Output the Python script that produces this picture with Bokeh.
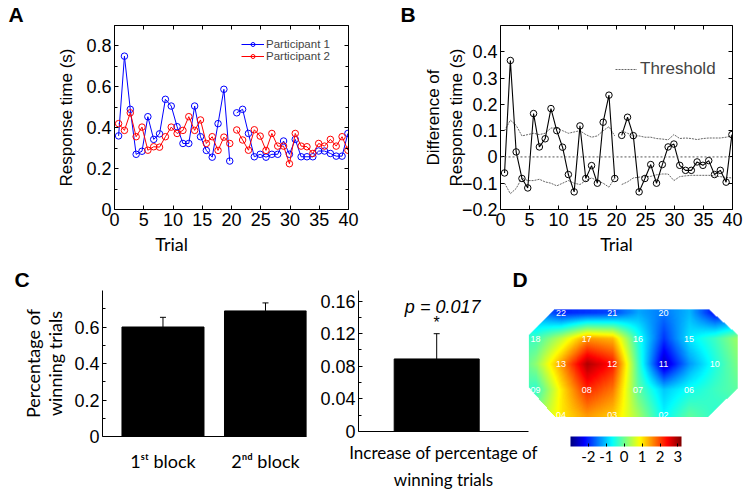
import numpy as np
from bokeh.plotting import figure
from bokeh.models import (Range1d, LinearAxis, FixedTicker, Legend, LegendItem, Label,
                          LinearColorMapper, ColorBar, Whisker, TeeHead, ColumnDataSource, Span,
                          AllLabels)
from bokeh.layouts import column, row
from bokeh.embed import file_html
from bokeh.resources import INLINE
from bokeh.core.properties import value

ARIAL = "Liberation Sans"
CAL = "Lato"

# ---------------- data ----------------
trials = list(range(1, 41))
p1_rt = [0.36, 0.75, 0.49, 0.27, 0.285, 0.454, 0.343, 0.37, 0.539, 0.506,
         0.405, 0.323, 0.323, 0.506, 0.356, 0.289, 0.256, 0.42, 0.588, 0.237,
         0.473, 0.49, 0.372, 0.258, 0.27, 0.256, 0.27, 0.27, 0.335, 0.27,
         0.343, 0.258, 0.258, 0.258, 0.286, 0.286, 0.274, 0.261, 0.261, 0.372]
p2_rt = [0.42, 0.387, 0.473, 0.356, 0.403, 0.29, 0.307, 0.305, 0.356, 0.403,
         0.372, 0.387, 0.454, 0.387, 0.438, 0.323, 0.356, 0.289, 0.354, 0.323,
         0.389, 0.34, 0.29, 0.39, 0.359, 0.289, 0.372, 0.31, 0.31, 0.224,
         0.372, 0.31, 0.307, 0.274, 0.323, 0.31, 0.343, 0.31, 0.356, 0.29]
rt_diff = [-0.061, 0.367, 0.019, -0.082, -0.118, 0.165, 0.038, 0.069, 0.184, 0.1,
           0.037, -0.067, -0.133, 0.118, -0.082, -0.033, -0.1, 0.132, 0.235, -0.082,
           0.082, 0.151, 0.081, -0.133, -0.082, -0.029, -0.1, -0.029, 0.038, 0.049,
           -0.032, -0.051, -0.051, -0.019, -0.032, -0.014, -0.067, -0.051, -0.096, 0.085]
thr_upper = [0.10, 0.14, 0.12, 0.08, 0.085, 0.09, 0.085, 0.09, 0.11, 0.11,
             0.10, 0.09, 0.095, 0.10, 0.085, 0.075, 0.08, 0.10, 0.115, 0.08,
             0.10, 0.09, 0.08, 0.08, 0.075, 0.075, 0.07, 0.068, 0.065, 0.085,
             0.07, 0.072, 0.07, 0.066, 0.07, 0.072, 0.072, 0.072, 0.075, 0.08]
thr_lower = [-0.10, -0.14, -0.12, -0.08, -0.09, -0.09, -0.085, -0.095, -0.10, -0.11,
             -0.10, -0.09, -0.10, -0.105, -0.09, -0.08, -0.09, -0.10, -0.115, -0.08,
             -0.105, -0.095, -0.08, -0.077, -0.075, -0.074, -0.068, -0.065, -0.065, -0.09,
             -0.075, -0.072, -0.07, -0.07, -0.07, -0.07, -0.072, -0.075, -0.078, -0.08]

block_labels = ["1\u02e2\u1d57 block", "2\u207f\u1d48 block"]
block_win = [0.60, 0.688]
block_err = [0.053, 0.044]

increase_val = [0.089]
increase_err = [0.031]
p_text = "p = 0.017"

electrode_names = ["22", "21", "20", "18", "17", "16", "15", "13", "12", "11", "10",
                   "09", "08", "07", "06", "04", "03", "02"]
electrode_col = [1, 3, 5, 0, 2, 4, 6, 1, 3, 5, 7, 0, 2, 4, 6, 1, 3, 5]
electrode_row = [0, 0, 0, 1, 1, 1, 1, 2, 2, 2, 2, 3, 3, 3, 3, 4, 4, 4]
topo_cols = [-0.27, 0, 1, 2, 3, 4, 5, 6, 7, 7.9]
topo_rows = [0, 1, 2, 3, 4]
topo_values = [
    [-1.1, -1.3, -2.0, -1.9, -1.8, -1.2, -1.5, -1.1, -2.2, -2.0],
    [-0.3, -0.3, 0.5, 1.5, 1.3, -0.5, -1.9, -0.8, -0.3, 0.3],
    [0.0, 0.2, 1.5, 2.9, 2.3, -0.3, -2.6, -1.3, -0.5, 0.1],
    [-0.3, -0.4, 1.0, 2.2, 1.7, -0.1, -1.0, -0.6, -0.3, -0.1],
    [0.0, 0.2, 1.0, 1.5, 1.2, 0.3, -0.7, -0.1, -0.4, -0.4],
]
montage_outline = [(0.74, -0.16), (6.72, -0.16), (7.89, 0.86), (7.89, 2.94),
                   (6.72, 4.08), (0.74, 4.08), (-0.27, 2.94), (-0.27, 0.86)]
cbar_low, cbar_high = -3.0, 3.2
cbar_ticks = [-2, -1, 0, 1, 2, 3]
cbar_labels = ["-2", "-1", "0", "1", "2", "3"]

# ---------------- helpers ----------------
trial_pos = [t - 0.3 if t <= 20 else t - 0.1 for t in trials]


def with_gap(vals):
    return list(vals[:20]) + [np.nan] + list(vals[20:])


def style_axis(ax, size="18px"):
    ax.major_label_text_font = ARIAL
    ax.major_label_text_font_size = size
    ax.major_label_text_color = "black"
    ax.axis_line_color = "black"
    ax.major_tick_line_color = "black"
    ax.minor_tick_line_color = "black"
    ax.major_tick_in = 4
    ax.major_tick_out = 0
    ax.minor_tick_in = 3
    ax.minor_tick_out = 0
    ax.major_label_standoff = 3
    ax.axis_label_text_color = "black"
    ax.axis_label_text_font_style = "normal"


def mirror(p, ticks, minor, loc):
    ax = LinearAxis(ticker=FixedTicker(ticks=ticks, minor_ticks=minor))
    style_axis(ax)
    ax.major_label_overrides = {t: "" for t in ticks}
    ax.major_label_text_font_size = "1px"
    ax.major_label_standoff = 0
    p.add_layout(ax, loc)


def base_fig(fw, fh, xr, yr, l, r, t, b, letter, offset):
    p = figure(frame_width=fw, frame_height=fh, x_range=xr, y_range=yr,
               output_backend="svg", toolbar_location=None,
               min_border_left=l, min_border_right=r, min_border_top=t, min_border_bottom=b)
    p.grid.visible = False
    p.outline_line_color = None
    p.title.text = letter
    p.title.align = "left"
    p.title.offset = offset
    p.title.standoff = 0
    p.title.text_font = ARIAL
    p.title.text_font_size = "21px"
    p.title.text_font_style = "bold"
    p.title.text_color = "black"
    return p


xt = [0, 5, 10, 15, 20, 25, 30, 35, 40]

# ---------------- Panel A ----------------
pA = base_fig(234, 184, Range1d(0, 40), Range1d(0, 0.9), 114, 37, 25, 53, "A", -106)
ya = [0, 0.2, 0.4, 0.6, 0.8]
ya_m = [0.1, 0.3, 0.5, 0.7, 0.9]
pA.xaxis.ticker = FixedTicker(ticks=xt, minor_ticks=[])
pA.yaxis.ticker = FixedTicker(ticks=ya, minor_ticks=ya_m)
for ax in pA.xaxis + pA.yaxis:
    style_axis(ax)
pA.yaxis.major_label_overrides = {0: "0"}
pA.yaxis.axis_label = "Response time (s)"
pA.yaxis.axis_label_text_font = ARIAL
pA.yaxis.axis_label_text_font_size = "17px"
pA.yaxis.axis_label_standoff = 7
pA.xaxis.axis_label = "Trial" + "\u00a0" * 26
pA.xaxis.axis_label_text_font = CAL
pA.xaxis.axis_label_text_font_size = "18px"
pA.xaxis.axis_label_standoff = 4
mirror(pA, xt, [], "above")
mirror(pA, ya, ya_m, "right")

la1 = pA.line(with_gap(trial_pos), with_gap(p1_rt), line_color="blue", line_width=1)
sa1 = pA.scatter(trial_pos, p1_rt, marker="circle", size=6.5, fill_color=None,
                 line_color="blue", line_width=1)
la2 = pA.line(with_gap(trial_pos), with_gap(p2_rt), line_color="red", line_width=1)
sa2 = pA.scatter(trial_pos, p2_rt, marker="circle", size=6.5, fill_color=None,
                 line_color="red", line_width=1)
legA = Legend(items=[LegendItem(label="Participant 1", renderers=[la1, sa1]),
                     LegendItem(label="Participant 2", renderers=[la2, sa2])],
              location=(127, 147), border_line_color=None, background_fill_alpha=0,
              label_text_font=ARIAL, label_text_font_size="11.5px", label_height=10,
              glyph_height=10, glyph_width=23, spacing=0, padding=0, margin=0,
              label_standoff=2)
pA.add_layout(legA)

# ---------------- Panel B ----------------
pB = base_fig(232, 184, Range1d(0, 40), Range1d(-0.2, 0.5), 115, 15, 25, 53, "B", -100)
yb = [-0.2, -0.1, 0, 0.1, 0.2, 0.3, 0.4]
pB.xaxis.ticker = FixedTicker(ticks=xt, minor_ticks=[])
pB.yaxis.ticker = FixedTicker(ticks=yb, minor_ticks=[])
for ax in pB.xaxis + pB.yaxis:
    style_axis(ax)
pB.yaxis.major_label_overrides = {0: "0"}
pB.yaxis.axis_label = "Difference of\nResponse time (s)"
pB.yaxis.axis_label_text_font = ARIAL
pB.yaxis.axis_label_text_font_size = "17px"
pB.yaxis.axis_label_text_line_height = 1.2
pB.yaxis.axis_label_standoff = -7
pB.xaxis.axis_label = "Trial"
pB.xaxis.axis_label_text_font = CAL
pB.xaxis.axis_label_text_font_size = "18px"
pB.xaxis.axis_label_standoff = 4
mirror(pB, xt, [], "above")
mirror(pB, yb, [], "right")

pB.add_layout(Span(location=0, dimension="width", line_color="#555555",
                   line_dash="2 2", line_width=1))
rthr = pB.line(with_gap(trial_pos), with_gap(thr_upper), line_color="#555555",
               line_width=0.9, line_dash="2 1")
pB.line(with_gap(trial_pos), with_gap(thr_lower), line_color="#555555",
        line_width=0.9, line_dash="2 1")
pB.line(with_gap(trial_pos), with_gap(rt_diff), line_color="black", line_width=1.1)
pB.scatter(trial_pos, rt_diff, marker="circle", size=6.5, fill_color=None,
           line_color="black", line_width=1)
legB = Legend(items=[LegendItem(label="Threshold", renderers=[rthr])],
              location=(115, 130), border_line_color=None, background_fill_alpha=0,
              label_text_font=ARIAL, label_text_font_size="17px", label_height=18,
              glyph_height=18, glyph_width=22, spacing=0, padding=0, margin=0,
              label_standoff=3)
pB.add_layout(legB)

# ---------------- Panel C (left) ----------------
pC1 = base_fig(204, 146, Range1d(0.41, 2.4), Range1d(0, 0.8), 102, 4, 28, 59, "C", -88)
yc = [0, 0.2, 0.4, 0.6]
pC1.yaxis.ticker = FixedTicker(ticks=yc, minor_ticks=[0.1, 0.3, 0.5, 0.7])
style_axis(pC1.yaxis[0])
pC1.yaxis.major_label_overrides = {0: "0"}
pC1.yaxis.axis_label = "Percentage of\nwinning trials"
pC1.yaxis.axis_label_text_font = CAL
pC1.yaxis.axis_label_text_font_size = "18px"
pC1.yaxis.axis_label_text_line_height = 1.0
pC1.yaxis.axis_label_standoff = 5
cx = [1, 2]
pC1.xaxis.ticker = FixedTicker(ticks=cx, minor_ticks=[])
style_axis(pC1.xaxis[0])
pC1.xaxis.major_tick_in = 0
pC1.xaxis.major_label_text_font = CAL
pC1.xaxis.major_label_overrides = {cx[i]: block_labels[i] for i in range(2)}
pC1.xaxis.major_label_standoff = 13

pC1.vbar(x=cx, top=block_win, width=0.8, fill_color="black", line_color="black")
srcC1 = ColumnDataSource(dict(x=cx, lower=block_win,
                              upper=[v + e for v, e in zip(block_win, block_err)]))
pC1.add_layout(Whisker(source=srcC1, base="x", lower="lower", upper="upper",
                       upper_head=TeeHead(size=6, line_width=1, line_color="black"),
                       lower_head=None, line_color="black", line_width=1))

# ---------------- Panel C (right) ----------------
pC2 = base_fig(170, 141, Range1d(0.08, 2.08), Range1d(0, 0.173), 48, 22, 28, 59, "D", 154)
yc2 = [0, 0.04, 0.08, 0.12, 0.16]
pC2.yaxis.ticker = FixedTicker(ticks=yc2, minor_ticks=[0.02, 0.06, 0.10, 0.14])
style_axis(pC2.yaxis[0])
pC2.yaxis.major_label_overrides = {0: "0"}
pC2.xaxis.ticker = FixedTicker(ticks=[])
style_axis(pC2.xaxis[0])
pC2.xaxis.major_label_text_font_size = "0px"
pC2.xaxis.major_label_standoff = 0
pC2.xaxis.axis_label = "Increase of percentage of\nwinning trials"
pC2.xaxis.axis_label_text_font = CAL
pC2.xaxis.axis_label_text_font_size = "17px"
pC2.xaxis.axis_label_text_line_height = 1.3
pC2.xaxis.axis_label_standoff = 10
pC2.vbar(x=[1], top=increase_val, width=1.0, fill_color="black", line_color="black")
srcC2 = ColumnDataSource(dict(x=[1], lower=increase_val,
                              upper=[increase_val[0] + increase_err[0]]))
pC2.add_layout(Whisker(source=srcC2, base="x", lower="lower", upper="upper",
                       upper_head=TeeHead(size=6, line_width=1, line_color="black"),
                       lower_head=None, line_color="black", line_width=1))
pC2.add_layout(Label(x=1, y=increase_val[0] + increase_err[0] + 0.014, text="*",
                     text_font=ARIAL, text_font_size="16px", text_align="center",
                     text_baseline="middle", text_color="black"))
pC2.add_layout(Label(x=1.07, y=0.153, text=p_text, text_font=ARIAL,
                     text_font_size="18px", text_font_style="italic",
                     text_align="center", text_baseline="middle", text_color="black"))

# ---------------- Panel D ----------------
pD = figure(frame_width=216, frame_height=146, x_range=Range1d(-0.3125, 8.125),
            y_range=Range1d(-4.824, 0.902), output_backend="svg", toolbar_location=None,
            min_border_left=0, min_border_right=0, min_border_top=28, min_border_bottom=59)
pD.axis.visible = False
pD.grid.visible = False
pD.outline_line_color = None
pD.background_fill_alpha = 0
pD.border_fill_alpha = 0
pD.margin = (0, 0, 0, -23)


def jet(n=256):
    out = []
    for i in range(n):
        t = i / (n - 1)
        r = np.clip(1.5 - abs(4 * t - 3), 0, 1)
        g = np.clip(1.5 - abs(4 * t - 2), 0, 1)
        b = np.clip(1.5 - abs(4 * t - 1), 0, 1)
        out.append("#%02x%02x%02x" % (int(r * 255), int(g * 255), int(b * 255)))
    return out


cs = np.linspace(-0.3, 7.9, 210)
rs = np.linspace(-0.2, 4.1, 110)
tv = np.array(topo_values, dtype=float)
rowwise = np.array([np.interp(cs, topo_cols, tv[k]) for k in range(tv.shape[0])])
grid = np.array([np.interp(rs, topo_rows, rowwise[:, j]) for j in range(len(cs))]).T
CC, RR = np.meshgrid(cs, rs)
inside = np.ones_like(CC, dtype=bool)
n = len(montage_outline)
for k in range(n):
    x1, y1 = montage_outline[k]
    x2, y2 = montage_outline[(k + 1) % n]
    inside &= ((x2 - x1) * (RR - y1) - (y2 - y1) * (CC - x1)) >= 0
grid = np.where(inside, grid, np.nan)
img = grid[::-1]

mapper = LinearColorMapper(palette=jet(), low=cbar_low, high=cbar_high, nan_color=(0, 0, 0, 0))
pD.image(image=[img], x=-0.3, y=-4.1, dw=8.2, dh=4.3, color_mapper=mapper)
pD.text(x=electrode_col, y=[-r for r in electrode_row], text=electrode_names,
        text_color="white", text_font_size="9px", text_align="center",
        text_baseline="middle", text_font=value(ARIAL))
cb = ColorBar(color_mapper=mapper, orientation="horizontal", location=(43, 4),
              width=111, height=10, ticker=FixedTicker(ticks=cbar_ticks),
              major_label_policy=AllLabels(),
              major_label_overrides={t: s for t, s in zip(cbar_ticks, cbar_labels)},
              major_label_text_font=CAL, major_label_text_font_size="15px",
              major_label_text_color="black", label_standoff=4, padding=0, margin=0,
              background_fill_alpha=0, border_line_color=None, bar_line_color=None,
              major_tick_line_color="black", major_tick_in=3, major_tick_out=0,
              minor_tick_line_color=None)
pD.add_layout(cb, "below")

layout = column(row(pA, pB), row(pC1, pC2, pD))
open("out.html", "w").write(file_html(layout, INLINE))
